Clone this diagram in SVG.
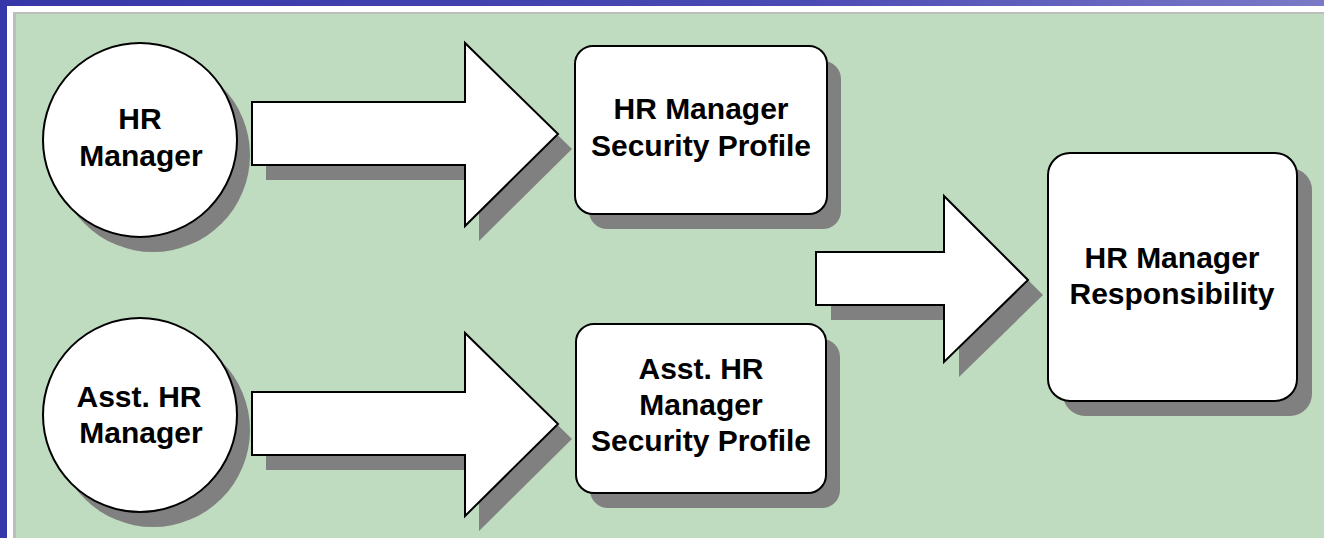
<svg xmlns="http://www.w3.org/2000/svg" width="1324" height="538" viewBox="0 0 1324 538">
  <defs>
    <linearGradient id="bg" x1="0" y1="0" x2="1" y2="0">
      <stop offset="0" stop-color="#3636a8"/>
      <stop offset="0.6" stop-color="#4a4ab4"/>
      <stop offset="1" stop-color="#7a7ac8"/>
    </linearGradient>
  </defs>
  <style>
    .shadow { fill: #808080; stroke: none; }
    .shape { fill: #ffffff; stroke: #000000; stroke-width: 2; stroke-linejoin: miter; }
    .label { font-family: "Liberation Sans", Arial, sans-serif; font-weight: bold; font-size: 30px; fill: #000000; text-anchor: middle; }
  </style>

  <!-- slide background and panel -->
  <rect x="0" y="0" width="1324" height="538" fill="url(#bg)"/>
  <rect x="7" y="6" width="1317" height="532" fill="#ffffff"/>
  <rect x="13" y="12" width="1311" height="526" fill="#bdbdbd"/>
  <rect x="16" y="14" width="1308" height="524" fill="#c0dcc0"/>

  <g id="node-hr-manager">
    <circle class="shadow" cx="153" cy="155" r="97"/>
    <circle class="shape" cx="140" cy="140" r="97"/>
    <text class="label" x="140" y="129">HR</text>
    <text class="label" x="141" y="166">Manager</text>
  </g>

  <g id="node-asst-hr-manager">
    <circle class="shadow" cx="153" cy="430" r="97"/>
    <circle class="shape" cx="140" cy="415" r="97"/>
    <text class="label" x="139" y="407">Asst. HR</text>
    <text class="label" x="141" y="443">Manager</text>
  </g>

  <g id="node-hr-profile">
    <rect class="shadow" x="589" y="61" width="252" height="168" rx="18" ry="18"/>
    <rect class="shape" x="575" y="46" width="252" height="168" rx="18" ry="18"/>
    <text class="label" x="701" y="119">HR Manager</text>
    <text class="label" x="701" y="156">Security Profile</text>
  </g>

  <g id="node-asst-profile">
    <rect class="shadow" x="590" y="339" width="250" height="169" rx="18" ry="18"/>
    <rect class="shape" x="576" y="324" width="250" height="169" rx="18" ry="18"/>
    <text class="label" x="701" y="379">Asst. HR</text>
    <text class="label" x="701" y="415">Manager</text>
    <text class="label" x="701" y="451">Security Profile</text>
  </g>

  <g id="node-responsibility">
    <rect class="shadow" x="1063" y="168" width="249" height="248" rx="22" ry="22"/>
    <rect class="shape" x="1048" y="153" width="249" height="248" rx="22" ry="22"/>
    <text class="label" x="1172" y="268">HR Manager</text>
    <text class="label" x="1172" y="304">Responsibility</text>
  </g>

  <g id="connectors">
    <polygon class="shadow" points="266,117 479,117 479,58 572,149 479,241 479,180 266,180"/>
    <polygon class="shape" points="252,102 465,102 465,43 558,134 465,226 465,165 252,165"/>

    <polygon class="shadow" points="266,407 479,407 479,348 572,439 479,531 479,470 266,470"/>
    <polygon class="shape" points="252,392 465,392 465,333 558,424 465,516 465,455 252,455"/>

    <polygon class="shadow" points="831,267 959,267 959,211 1043,295 959,377 959,320 831,320"/>
    <polygon class="shape" points="816,252 944,252 944,196 1028,280 944,362 944,305 816,305"/>
  </g>
</svg>
